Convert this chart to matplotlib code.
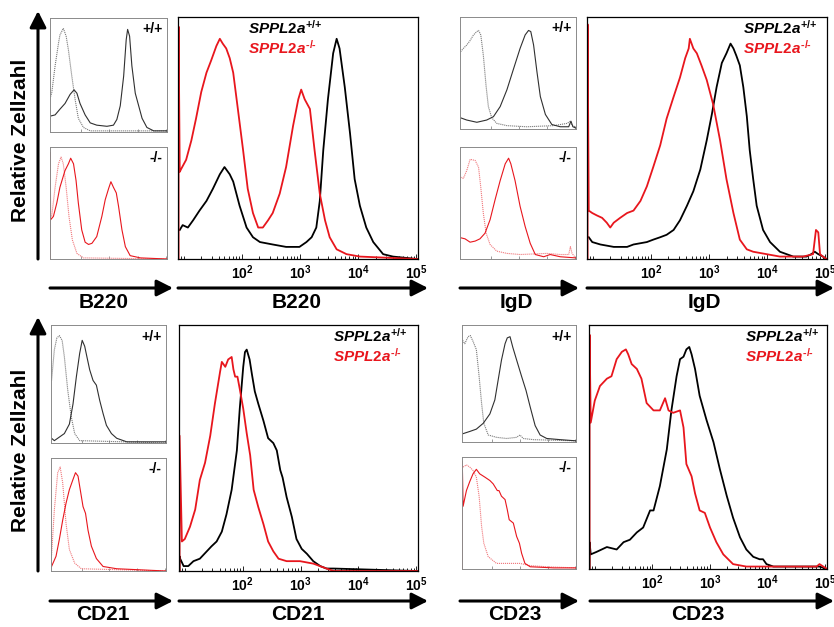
import numpy as np
import matplotlib.pyplot as plt
from matplotlib.ticker import FixedLocator, LogLocator, NullFormatter

plt.rcParams['font.family'] = ['Liberation Sans', 'DejaVu Sans']
plt.rcParams['mathtext.fontset'] = 'custom'
plt.rcParams['mathtext.rm'] = 'Liberation Sans:bold'
plt.rcParams['mathtext.it'] = 'Liberation Sans:italic:bold'
plt.rcParams['mathtext.bf'] = 'Liberation Sans:bold'

# curves: (log10 fluorescence, % of max)
# ---- B220 ----
B220_WT = [(0.93, 12), (0.98, 14), (1.07, 13), (1.16, 16), (1.27, 20), (1.39, 24), (1.50, 29),
           (1.62, 35), (1.70, 38), (1.79, 35), (1.85, 32), (1.96, 22), (2.08, 13), (2.19, 9),
           (2.31, 7), (2.53, 6), (2.76, 5), (2.88, 5), (2.99, 5), (3.11, 7), (3.20, 9), (3.28, 13),
           (3.34, 24), (3.40, 45), (3.48, 66), (3.57, 85), (3.63, 91), (3.68, 87), (3.77, 71),
           (3.86, 52), (3.94, 33), (4.03, 22), (4.14, 13), (4.26, 7), (4.43, 2), (4.60, 1), (5.01, 0)]
B220_KO = [(0.91, 0), (0.91, 96), (0.93, 36), (0.95, 37), (1.04, 41), (1.13, 49), (1.21, 58),
           (1.30, 69), (1.39, 77), (1.47, 82), (1.56, 88), (1.62, 91), (1.67, 89), (1.73, 87),
           (1.79, 83), (1.85, 77), (1.93, 62), (2.02, 45), (2.10, 29), (2.19, 19), (2.28, 13),
           (2.36, 13), (2.45, 16), (2.53, 19), (2.65, 27), (2.76, 38), (2.88, 55), (2.97, 66),
           (3.02, 70), (3.08, 66), (3.17, 62), (3.25, 45), (3.34, 27), (3.43, 16), (3.51, 9),
           (3.63, 4), (3.80, 2), (4.03, 1), (5.01, 0)]
B220_WT_SMALL = [(0.92, 14), (1.08, 15), (1.25, 20), (1.43, 25), (1.61, 33), (1.75, 37), (1.85, 34),
                 (1.96, 25), (2.14, 15), (2.32, 8), (2.55, 6), (2.91, 5), (3.14, 6), (3.26, 11),
                 (3.38, 23), (3.50, 49), (3.59, 81), (3.64, 90), (3.71, 84), (3.79, 58), (3.91, 34),
                 (4.03, 23), (4.15, 12), (4.32, 4), (4.56, 1), (5.03, 1)]
B220_WT_CTRL = [(0.92, 31), (0.96, 34), (1.08, 58), (1.20, 78), (1.25, 85), (1.37, 91), (1.47, 84),
                (1.55, 72), (1.67, 49), (1.79, 28), (1.90, 12), (2.08, 4), (2.32, 1), (5.03, 1)]
B220_KO_SMALL = [(0.91, 0), (0.91, 95), (0.92, 35), (1.02, 38), (1.14, 50), (1.25, 64), (1.43, 79),
                 (1.55, 85), (1.63, 90), (1.73, 85), (1.82, 70), (1.90, 50), (2.02, 26), (2.14, 15),
                 (2.26, 13), (2.38, 14), (2.55, 20), (2.73, 38), (2.85, 53), (2.97, 63), (3.05, 69),
                 (3.14, 64), (3.24, 59), (3.32, 47), (3.44, 26), (3.56, 11), (3.73, 3), (4.09, 1),
                 (5.03, 0)]
B220_KO_CTRL = [(0.96, 38), (1.08, 64), (1.20, 85), (1.29, 91), (1.37, 85), (1.47, 64), (1.57, 38),
                (1.69, 17), (1.85, 5), (2.08, 1), (5.03, 0)]

# ---- IgD ----
IGD_WT = [(0.93, 9), (0.99, 7), (1.13, 6), (1.36, 5), (1.59, 5), (1.70, 6), (1.93, 7), (2.04, 8),
          (2.16, 9), (2.27, 10), (2.39, 12), (2.50, 16), (2.62, 22), (2.73, 28), (2.85, 37),
          (2.96, 49), (3.05, 60), (3.13, 71), (3.22, 81), (3.30, 85), (3.37, 89), (3.42, 87),
          (3.47, 84), (3.53, 80), (3.59, 71), (3.65, 59), (3.70, 45), (3.76, 33), (3.82, 22),
          (3.93, 12), (4.05, 7), (4.22, 3), (4.45, 1), (4.68, 1), (4.76, 2), (4.82, 3), (4.88, 2),
          (4.96, 1), (5.02, 0)]
IGD_KO = [(0.91, 0), (0.91, 97), (0.93, 20), (0.99, 19), (1.07, 18), (1.16, 17), (1.24, 15),
          (1.30, 13), (1.36, 15), (1.47, 17), (1.59, 19), (1.70, 20), (1.82, 24), (1.93, 30),
          (2.04, 38), (2.16, 47), (2.27, 58), (2.39, 67), (2.50, 75), (2.59, 83), (2.65, 87),
          (2.67, 91), (2.73, 87), (2.79, 85), (2.87, 80), (2.96, 74), (3.07, 64), (3.19, 49),
          (3.30, 33), (3.42, 19), (3.53, 8), (3.65, 4), (3.76, 3), (3.99, 2), (4.22, 1), (4.62, 1),
          (4.79, 2), (4.84, 12), (4.88, 11), (4.91, 2), (4.96, 1), (5.02, 0)]
IGD_WT_SMALL = [(0.92, 10), (1.14, 8), (1.50, 6), (1.85, 8), (2.09, 11), (2.33, 20), (2.57, 35),
                (2.81, 54), (3.04, 72), (3.22, 84), (3.34, 88), (3.42, 87), (3.52, 75), (3.64, 51),
                (3.76, 29), (3.94, 13), (4.17, 4), (4.47, 2), (4.77, 2), (4.85, 7), (4.92, 2), (5.01, 1)]
IGD_WT_CTRL = [(0.92, 69), (1.02, 72), (1.14, 75), (1.26, 79), (1.38, 84), (1.50, 87), (1.56, 88),
               (1.64, 84), (1.73, 66), (1.83, 38), (1.91, 20), (2.03, 10), (2.21, 5), (2.57, 3),
               (3.28, 2), (4.23, 3), (4.71, 5), (4.83, 7), (4.89, 3), (5.01, 2)]
IGD_KO_SMALL = [(0.92, 19), (1.08, 18), (1.26, 15), (1.44, 16), (1.61, 18), (1.79, 23), (1.97, 35),
                (2.15, 53), (2.33, 70), (2.51, 85), (2.63, 90), (2.71, 85), (2.86, 70), (3.04, 47),
                (3.22, 29), (3.40, 14), (3.58, 4), (3.88, 2), (4.11, 4), (4.47, 2), (5.01, 1)]
IGD_KO_CTRL = [(0.92, 73), (1.02, 72), (1.14, 79), (1.26, 89), (1.44, 88), (1.56, 82), (1.64, 64),
               (1.73, 41), (1.83, 23), (1.97, 13), (2.21, 7), (2.57, 5), (3.04, 4), (3.99, 5),
               (4.47, 4), (4.77, 4), (4.83, 11), (4.89, 5), (5.01, 1)]

# ---- CD21 ----
CD21_WT = [(0.91, 0), (0.91, 6), (0.92, 5), (0.98, 2), (1.06, 2), (1.15, 4), (1.26, 5), (1.38, 8),
           (1.46, 10), (1.55, 12), (1.64, 16), (1.72, 23), (1.81, 33), (1.90, 49), (1.95, 66),
           (2.01, 83), (2.04, 89), (2.07, 90), (2.12, 86), (2.16, 80), (2.21, 73), (2.27, 68),
           (2.36, 61), (2.44, 54), (2.53, 52), (2.59, 49), (2.65, 41), (2.69, 38), (2.76, 30),
           (2.85, 22), (2.93, 13), (3.02, 9), (3.11, 7), (3.22, 4), (3.34, 2), (3.45, 1), (3.57, 1),
           (5.01, 0)]
CD21_KO = [(0.91, 0), (0.91, 55), (0.95, 12), (1.00, 13), (1.09, 18), (1.18, 25), (1.26, 37),
           (1.35, 44), (1.44, 55), (1.52, 68), (1.61, 81), (1.64, 85), (1.70, 83), (1.75, 86),
           (1.81, 87), (1.84, 82), (1.87, 79), (1.91, 79), (1.95, 74), (2.01, 66), (2.07, 56),
           (2.13, 47), (2.19, 33), (2.27, 26), (2.36, 19), (2.44, 12), (2.53, 8), (2.62, 5),
           (2.76, 4), (2.99, 4), (3.22, 3), (3.45, 1), (3.57, 0), (5.01, 0)]
CD21_WT_SMALL = [(0.92, 4), (1.02, 2), (1.20, 5), (1.38, 8), (1.56, 16), (1.69, 33), (1.81, 56),
                 (1.93, 76), (2.02, 87), (2.11, 82), (2.19, 73), (2.29, 62), (2.41, 53), (2.53, 49),
                 (2.65, 36), (2.77, 25), (2.89, 15), (3.07, 8), (3.26, 4), (3.62, 1), (5.03, 1)]
CD21_WT_CTRL = [(0.92, 53), (1.02, 79), (1.11, 89), (1.20, 91), (1.30, 87), (1.38, 73), (1.50, 45),
                (1.63, 22), (1.75, 8), (1.93, 2), (5.03, 0)]
CD21_KO_SMALL = [(0.92, 4), (1.08, 13), (1.20, 28), (1.32, 45), (1.44, 60), (1.56, 72), (1.69, 81),
                 (1.78, 87), (1.87, 84), (1.95, 72), (2.05, 57), (2.14, 51), (2.23, 36), (2.35, 22),
                 (2.53, 11), (2.77, 4), (3.26, 2), (5.03, 0)]
CD21_KO_CTRL = [(0.92, 14), (1.02, 54), (1.14, 87), (1.23, 92), (1.32, 78), (1.44, 42), (1.56, 19),
                (1.75, 7), (1.99, 2), (5.03, 0)]

# ---- CD23 ----
CD23_WT = [(0.91, 0), (0.91, 11), (0.93, 6), (1.03, 7), (1.21, 9), (1.38, 8), (1.50, 11), (1.61, 12),
           (1.73, 15), (1.84, 17), (1.96, 24), (2.02, 24), (2.13, 34), (2.25, 49), (2.33, 65),
           (2.42, 79), (2.48, 86), (2.54, 87), (2.59, 90), (2.64, 91), (2.68, 88), (2.74, 82),
           (2.82, 71), (2.94, 61), (3.06, 52), (3.17, 41), (3.29, 30), (3.40, 21), (3.52, 13),
           (3.63, 8), (3.75, 5), (3.86, 4), (3.92, 4), (3.98, 2), (4.10, 1), (4.33, 1), (4.90, 1),
           (5.03, 0)]
CD23_KO = [(0.91, 0), (0.91, 96), (0.93, 60), (1.00, 69), (1.09, 75), (1.21, 78), (1.29, 79),
           (1.38, 86), (1.47, 89), (1.54, 90), (1.58, 88), (1.64, 84), (1.73, 82), (1.81, 78),
           (1.90, 68), (2.02, 65), (2.13, 65), (2.22, 70), (2.28, 65), (2.36, 64), (2.48, 65),
           (2.54, 58), (2.59, 43), (2.68, 38), (2.74, 31), (2.82, 24), (2.91, 23), (3.00, 17),
           (3.11, 11), (3.23, 6), (3.40, 2), (3.63, 1), (4.33, 1), (4.85, 1), (4.90, 2), (5.03, 0)]
CD23_WT_SMALL = [(0.92, 7), (1.18, 9), (1.42, 11), (1.67, 16), (1.91, 24), (2.09, 36), (2.21, 53),
                 (2.33, 70), (2.46, 84), (2.54, 89), (2.64, 90), (2.74, 81), (2.88, 70), (3.06, 56),
                 (3.22, 44), (3.37, 30), (3.55, 14), (3.73, 6), (3.97, 3), (4.46, 2), (5.03, 1)]
CD23_WT_CTRL = [(0.92, 87), (1.00, 84), (1.12, 90), (1.20, 91), (1.30, 86), (1.42, 79), (1.52, 56),
                (1.61, 33), (1.69, 16), (1.85, 6), (2.15, 4), (2.52, 3), (2.88, 4), (3.00, 6),
                (3.12, 3), (3.49, 2), (5.03, 1)]
CD23_KO_SMALL = [(0.91, 0), (0.91, 96), (0.94, 56), (1.06, 70), (1.18, 78), (1.30, 85), (1.42, 89),
                 (1.54, 85), (1.73, 82), (1.91, 79), (2.03, 76), (2.18, 70), (2.24, 70), (2.33, 65),
                 (2.46, 62), (2.54, 53), (2.61, 44), (2.76, 41), (2.88, 29), (2.98, 23), (3.06, 14),
                 (3.18, 5), (3.37, 2), (4.22, 1), (5.03, 1)]
CD23_KO_CTRL = [(0.94, 91), (1.06, 93), (1.18, 91), (1.30, 88), (1.42, 82), (1.52, 65), (1.61, 38),
                (1.69, 23), (1.85, 11), (2.15, 5), (2.64, 5), (3.00, 5), (3.37, 3), (3.97, 2), (5.03, 1)]

MARKERS = ['B220', 'IgD', 'CD21', 'CD23']
TICK_EXP = [2, 3, 4, 5]
LEGEND_WT = r'$\mathit{SPPL2a}^{\text{+/+}}$'
LEGEND_KO = r'$\mathit{SPPL2a}^{\text{-/-}}$'

W, H = 834, 627
RED = '#e8161d'
PINK = '#f0787c'
XLIM = (10 ** 0.9, 10 ** 5.03)

fig = plt.figure(figsize=(W / 100, H / 100), dpi=100)

# overlay in image pixels for arrows and free labels
ov = fig.add_axes([0, 0, 1, 1])
ov.set_xlim(0, W)
ov.set_ylim(H, 0)
ov.axis('off')


def px_axes(x0, y0, x1, y1):
    return fig.add_axes([x0 / W, 1 - y1 / H, (x1 - x0) / W, (y1 - y0) / H])


def draw(ax, curve, **kw):
    lx, y = zip(*curve)
    ax.plot(10 ** np.array(lx), y, **kw)


def setup(ax, big):
    ax.set_xscale('log')
    ax.set_xlim(*XLIM)
    ax.set_ylim(0, 100)
    ax.set_yticks([])
    ax.xaxis.set_major_locator(FixedLocator([10.0 ** e for e in TICK_EXP]))
    ax.xaxis.set_minor_locator(LogLocator(base=10, subs=np.arange(1, 10)))
    ax.xaxis.set_minor_formatter(NullFormatter())
    col = 'black' if big else '#8a8a8a'
    for s in ax.spines.values():
        s.set_color(col)
        s.set_linewidth(0.9 if big else 0.7)
    ax.tick_params(axis='x', which='both', direction='in', color=col, width=0.6)
    ax.tick_params(axis='x', which='major', length=3.5 if big else 2.5, pad=3)
    ax.tick_params(axis='x', which='minor', length=2 if big else 1.5)
    if big:
        ax.set_xticklabels([r'$10^{%d}$' % e for e in TICK_EXP], fontsize=10)
    else:
        ax.set_xticklabels([])


def arrow(x0, y0, x1, y1):
    ov.annotate('', xy=(x1, y1), xytext=(x0, y0),
                arrowprops=dict(arrowstyle='-|>,head_length=0.75,head_width=0.38', lw=2.2,
                                color='black', mutation_scale=13, shrinkA=0, shrinkB=0))


# group layout: (small +/+, small -/-, big) boxes in pixels, arrows row, label x
groups = [
    dict(wt=(50, 18, 167, 132), ko=(50, 147, 167, 259), big=(178, 17, 418, 259),
         arr_y=288, arr_small=(50, 173), arr_big=(178, 428), lab_y=303, lab_x=(104, 297),
         curves=(B220_WT_SMALL, B220_WT_CTRL, B220_KO_SMALL, B220_KO_CTRL, B220_WT, B220_KO),
         leg_x=0.29),
    dict(wt=(460, 17, 576, 129), ko=(460, 147, 576, 259), big=(587, 17, 827, 259),
         arr_y=288, arr_small=(460, 579), arr_big=(587, 834), lab_y=303, lab_x=(516, 704),
         curves=(IGD_WT_SMALL, IGD_WT_CTRL, IGD_KO_SMALL, IGD_KO_CTRL, IGD_WT, IGD_KO),
         leg_x=0.65),
    dict(wt=(51, 325, 166, 443), ko=(51, 458, 166, 571), big=(179, 325, 418, 571),
         arr_y=601, arr_small=(50, 173), arr_big=(179, 428), lab_y=615, lab_x=(103, 298),
         curves=(CD21_WT_SMALL, CD21_WT_CTRL, CD21_KO_SMALL, CD21_KO_CTRL, CD21_WT, CD21_KO),
         leg_x=0.645),
    dict(wt=(462, 325, 576, 442), ko=(462, 457, 576, 569), big=(589, 325, 827, 569),
         arr_y=601, arr_small=(460, 579), arr_big=(590, 834), lab_y=615, lab_x=(515, 698),
         curves=(CD23_WT_SMALL, CD23_WT_CTRL, CD23_KO_SMALL, CD23_KO_CTRL, CD23_WT, CD23_KO),
         leg_x=0.655),
]

for name, g in zip(MARKERS, groups):
    wt_s, wt_c, ko_s, ko_c, wt_b, ko_b = g['curves']

    ax = px_axes(*g['wt'])
    setup(ax, big=False)
    draw(ax, wt_c, color='#7a7a7a', lw=0.8, ls=(0, (1, 0.8)))
    draw(ax, wt_s, color='#303030', lw=0.8)
    ax.text(0.96, 0.9, '+/+', transform=ax.transAxes, ha='right', va='center',
            fontsize=10, fontweight='bold')

    ax = px_axes(*g['ko'])
    setup(ax, big=False)
    draw(ax, ko_c, color=PINK, lw=0.8, ls=(0, (1, 0.8)))
    draw(ax, ko_s, color=RED, lw=0.8)
    ax.text(0.96, 0.9, '-/-', transform=ax.transAxes, ha='right', va='center',
            fontsize=10, fontweight='bold')

    ax = px_axes(*g['big'])
    setup(ax, big=True)
    draw(ax, wt_b, color='black', lw=1.3)
    draw(ax, ko_b, color=RED, lw=1.3)
    ax.text(g['leg_x'], 0.955, LEGEND_WT, transform=ax.transAxes, ha='left', va='center',
            fontsize=11, color='black')
    ax.text(g['leg_x'], 0.875, LEGEND_KO, transform=ax.transAxes, ha='left', va='center',
            fontsize=11, color=RED)

    y = g['arr_y']
    arrow(g['arr_small'][0], y, g['arr_small'][1], y)
    arrow(g['arr_big'][0], y, g['arr_big'][1], y)
    for lx in g['lab_x']:
        ov.text(lx, g['lab_y'], name, ha='center', va='center', fontsize=15, fontweight='bold')

# vertical arrows and y labels
arrow(38, 259, 38, 11)
arrow(38, 571, 38, 317)
ov.text(21, 140, 'Relative Zellzahl', rotation=90, ha='center', va='center',
        fontsize=15, fontweight='bold')
ov.text(21, 450, 'Relative Zellzahl', rotation=90, ha='center', va='center',
        fontsize=15, fontweight='bold')

fig.savefig('out.png', dpi=100, facecolor='white')
